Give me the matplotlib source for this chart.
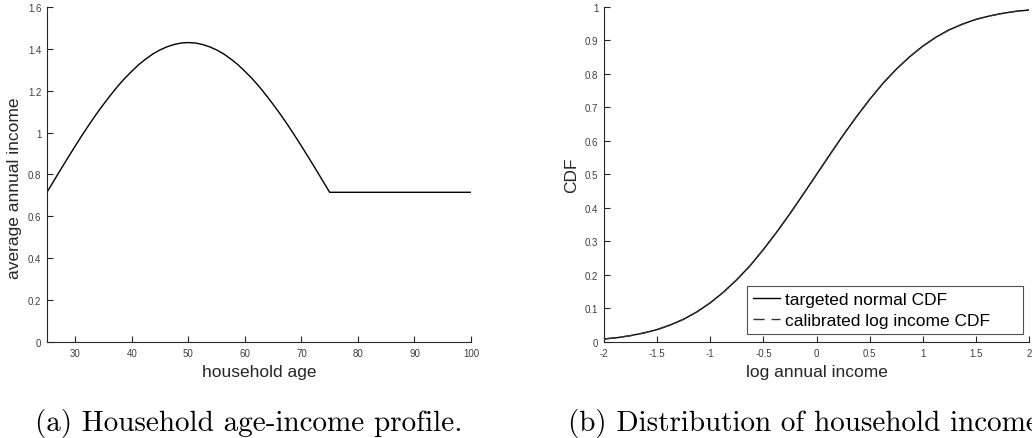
import matplotlib
matplotlib.use("Agg")
import matplotlib.pyplot as plt
from matplotlib.ticker import FixedLocator, FixedFormatter

# ---- Data ----
age = [25, 26.25, 27.5, 28.75, 30, 31.25, 32.5, 33.75, 35, 36.25, 37.5, 38.75, 40,
       41.25, 42.5, 43.75, 45, 46.25, 47.5, 48.75, 50,
       51.25, 52.5, 53.75, 55, 56.25, 57.5, 58.75, 60, 61.25, 62.5, 63.75, 65,
       66.25, 67.5, 68.75, 70, 71.25, 72.5, 73.75, 75, 100]
avg_income = [0.715, 0.771, 0.827, 0.882, 0.936, 0.989, 1.040, 1.089, 1.135, 1.179, 1.221, 1.259, 1.293,
              1.325, 1.352, 1.376, 1.395, 1.410, 1.421, 1.428, 1.430,
              1.428, 1.421, 1.410, 1.395, 1.376, 1.352, 1.325, 1.293, 1.259, 1.221, 1.179, 1.135,
              1.089, 1.040, 0.989, 0.936, 0.882, 0.827, 0.771, 0.715, 0.715]

log_income = [-2, -1.875, -1.75, -1.625, -1.5, -1.375, -1.25, -1.125, -1, -0.875, -0.75,
              -0.625, -0.5, -0.375, -0.25, -0.125, 0, 0.125, 0.25, 0.375, 0.5, 0.625,
              0.75, 0.875, 1, 1.125, 1.25, 1.375, 1.5, 1.625, 1.75, 1.875, 2]
target_cdf = [0.009, 0.013, 0.019, 0.027, 0.037, 0.051, 0.068, 0.090, 0.117, 0.149, 0.186,
              0.228, 0.276, 0.328, 0.383, 0.441, 0.500, 0.559, 0.617, 0.672, 0.724, 0.772,
              0.814, 0.851, 0.883, 0.910, 0.932, 0.949, 0.963, 0.973, 0.981, 0.987, 0.991]
calib_cdf = list(target_cdf)

age_ticks = [30, 40, 50, 60, 70, 80, 90, 100]
age_ticklabels = ["30", "40", "50", "60", "70", "80", "90", "100"]
inc_ticks = [0, 0.2, 0.4, 0.6, 0.8, 1.0, 1.2, 1.4, 1.6]
inc_ticklabels = ["0", "0.2", "0.4", "0.6", "0.8", "1", "1.2", "1.4", "1.6"]
log_ticks = [-2, -1.5, -1, -0.5, 0, 0.5, 1, 1.5, 2]
log_ticklabels = ["-2", "-1.5", "-1", "-0.5", "0", "0.5", "1", "1.5", "2"]
cdf_ticks = [0, 0.1, 0.2, 0.3, 0.4, 0.5, 0.6, 0.7, 0.8, 0.9, 1.0]
cdf_ticklabels = ["0", "0.1", "0.2", "0.3", "0.4", "0.5", "0.6", "0.7", "0.8", "0.9", "1"]

caption_a = "(a) Household age-income profile."
caption_b = "(b) Distribution of household income."

# ---- Figure ----
plt.rcParams['font.family'] = ['Liberation Sans', 'DejaVu Sans']
fig = plt.figure(figsize=(10.32, 4.39), dpi=100)

ax1 = fig.add_axes([0.0455, 0.2187, 0.4109, 0.7631])
ax2 = fig.add_axes([0.5853, 0.2187, 0.4118, 0.7631])

spine_col = '#262626'
tick_col = '#404040'

def style(ax, xt, xtl, yt, ytl):
    for s in ['top', 'right']:
        ax.spines[s].set_visible(False)
    for s in ['left', 'bottom']:
        ax.spines[s].set_color(spine_col)
        ax.spines[s].set_linewidth(0.8)
    ax.xaxis.set_major_locator(FixedLocator(xt))
    ax.xaxis.set_major_formatter(FixedFormatter(xtl))
    ax.yaxis.set_major_locator(FixedLocator(yt))
    ax.yaxis.set_major_formatter(FixedFormatter(ytl))
    ax.tick_params(direction='in', length=4, width=0.8, colors=spine_col,
                   labelsize=7, labelcolor=tick_col, pad=4)

ax1.plot(age, avg_income, color='black', lw=1.0)
ax1.set_xlim(25, 100)
ax1.set_ylim(0, 1.6)
style(ax1, age_ticks, age_ticklabels, inc_ticks, inc_ticklabels)
ax1.set_xlabel("household age", fontsize=12.5, color='#262626', labelpad=5)
ax1.set_ylabel("average annual income", fontsize=12.5, color='#262626')
ax1.yaxis.set_label_coords(-0.058, 0.463)

ax2.plot(log_income, target_cdf, color='black', lw=1.0, label="targeted normal CDF")
ax2.plot(log_income, calib_cdf, color='#333333', lw=1.0, ls=(0, (8, 5)),
         label="calibrated log income CDF")
ax2.set_xlim(-2, 2)
ax2.set_ylim(0, 1)
style(ax2, log_ticks, log_ticklabels, cdf_ticks, cdf_ticklabels)
ax2.set_xlabel("log annual income", fontsize=12.5, color='#262626', labelpad=5)
ax2.set_ylabel("CDF", fontsize=12.5, color='#262626', labelpad=4)
leg = ax2.legend(loc='lower left', bbox_to_anchor=(0.336, 0.024, 0.65, 0.14), mode='expand',
                 fontsize=12.5, frameon=True, fancybox=False, handlelength=1.6,
                 handletextpad=0.25, borderpad=0.33, labelspacing=0.35, borderaxespad=0.0)
leg.get_frame().set_edgecolor('#262626')
leg.get_frame().set_linewidth(0.8)

fig.text(0.241, 0.036, caption_a, fontsize=21, family=['cmr10', 'DejaVu Serif'],
         ha='center', va='center')
fig.text(0.550, 0.036, caption_b, fontsize=21, family=['cmr10', 'DejaVu Serif'],
         ha='left', va='center')

fig.savefig("out.png", dpi=100)
